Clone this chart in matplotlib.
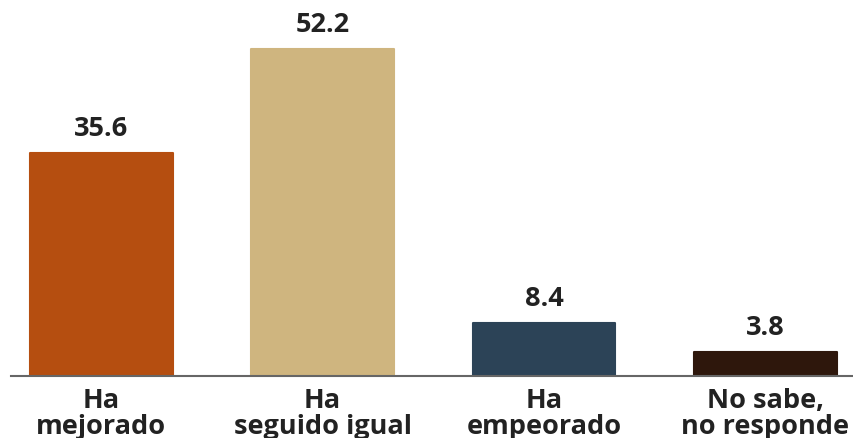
import matplotlib
matplotlib.use("Agg")
import matplotlib.pyplot as plt

categories = ["Ha\nmejorado", "Ha\nseguido igual", "Ha\nempeorado", "No sabe,\nno responde"]
values = [35.6, 52.2, 8.4, 3.8]
colors = ["#B54E10", "#CFB57F", "#2C4357", "#2E170C"]

plt.rcParams['font.family'] = ['Open Sans', 'DejaVu Sans']

fig = plt.figure(figsize=(8.54, 4.39), dpi=100)
ax = fig.add_axes([11 / 854, 62 / 439, 843 / 854, 377 / 439])

x = list(range(len(categories)))
ax.bar(x, values, width=0.645, color=colors, edgecolor=colors,
       linewidth=1.5, joinstyle='round', zorder=2)

for xi, v in zip(x, values):
    ax.annotate(f"{v:.1f}", (xi, v), xytext=(0, 12), textcoords='offset pixels',
                ha='center', va='bottom', fontsize=19.5, fontweight='bold', color='#222222')

ax.set_xlim(-0.407, 3.40)
ax.set_ylim(0, 60.2)
ax.set_xticks(x)
ax.set_xticklabels(categories, fontsize=19.5, fontweight='bold', color='#222222',
                   linespacing=0.98)
ax.tick_params(axis='x', length=0, pad=8)
ax.set_yticks([])
for s in ['top', 'right', 'left']:
    ax.spines[s].set_visible(False)
ax.spines['bottom'].set_color('#666666')
ax.spines['bottom'].set_linewidth(1.5)
ax.spines['bottom'].set_zorder(3)

fig.savefig("out.png", dpi=100)
